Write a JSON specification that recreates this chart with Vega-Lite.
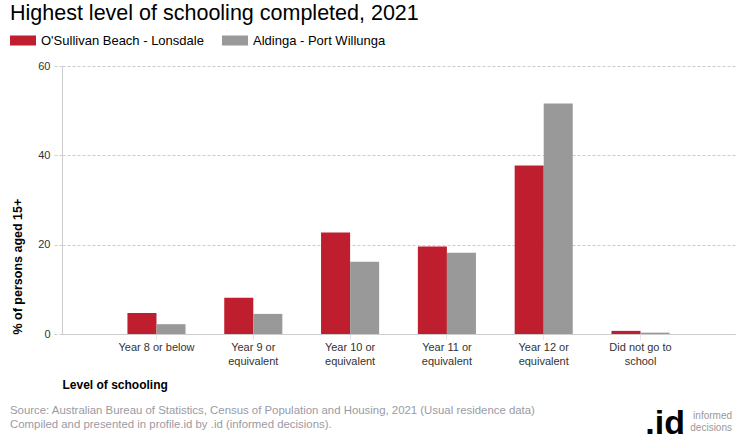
{
  "$schema": "https://vega.github.io/schema/vega-lite/v6.json",
  "background": "white",
  "padding": {"left": 10, "top": 2, "right": 5, "bottom": 5},
  "config": {
    "font": "Liberation Sans",
    "view": {"stroke": null},
    "title": {"font": "Liberation Sans", "fontWeight": "normal"}
  },
  "resolve": {"scale": {"color": "independent"}},
  "title": {"text": ".id", "orient": "bottom", "anchor": "end", "frame": "bounds", "fontSize": 34, "fontWeight": "bold", "color": "#000000", "dx": -50, "offset": -26},
  "vconcat": [
    {
      "resolve": {"scale": {"color": "independent"}},
      "title": {"text": ["informed", "decisions"], "orient": "bottom", "anchor": "end", "frame": "bounds", "fontSize": 10, "color": "#999999", "lineHeight": 12, "offset": -19, "dx": -3},
      "vconcat": [
        {
          "resolve": {"scale": {"color": "independent"}},
          "title": {"text": ["Source: Australian Bureau of Statistics, Census of Population and Housing, 2021 (Usual residence data)", "Compiled and presented in profile.id by .id (informed decisions)."], "orient": "bottom", "anchor": "start", "frame": "bounds", "fontSize": 11.4, "color": "#9a9aa4", "lineHeight": 14, "offset": 15},
          "vconcat": [
            {
              "title": {"text": "Highest level of schooling completed, 2021", "anchor": "start", "frame": "bounds", "fontSize": 21.5, "color": "#000000", "offset": 3.5},
              "width": 673,
              "height": 268,
              "data": {
                "values": [
                  {"category": "Year 8 or below", "area": "O'Sullivan Beach - Lonsdale", "value": 4.7},
                  {"category": "Year 8 or below", "area": "Aldinga - Port Willunga", "value": 2.2},
                  {"category": "Year 9 or equivalent", "area": "O'Sullivan Beach - Lonsdale", "value": 8.1},
                  {"category": "Year 9 or equivalent", "area": "Aldinga - Port Willunga", "value": 4.5},
                  {"category": "Year 10 or equivalent", "area": "O'Sullivan Beach - Lonsdale", "value": 22.7},
                  {"category": "Year 10 or equivalent", "area": "Aldinga - Port Willunga", "value": 16.2},
                  {"category": "Year 11 or equivalent", "area": "O'Sullivan Beach - Lonsdale", "value": 19.6},
                  {"category": "Year 11 or equivalent", "area": "Aldinga - Port Willunga", "value": 18.2},
                  {"category": "Year 12 or equivalent", "area": "O'Sullivan Beach - Lonsdale", "value": 37.7},
                  {"category": "Year 12 or equivalent", "area": "Aldinga - Port Willunga", "value": 51.6},
                  {"category": "Did not go to school", "area": "O'Sullivan Beach - Lonsdale", "value": 0.7},
                  {"category": "Did not go to school", "area": "Aldinga - Port Willunga", "value": 0.3}
                ]
              },
              "mark": {"type": "bar"},
              "encoding": {
                "x": {
                  "field": "category", "type": "nominal", "sort": null,
                  "title": "Level of schooling",
                  "scale": {"paddingInner": 0.4, "paddingOuter": 0.676},
                  "axis": {
                    "labelAngle": 0, "labelFontSize": 11, "labelColor": "#333333", "labelLineHeight": 14,
                    "labelPadding": 2, "labelLimit": 0, "tickSize": 5, "tickColor": "#cccccc", "tickDash": [1, 1],
                    "domainColor": "#cccccc", "titleFontSize": 12, "titleFontWeight": "bold", "titleColor": "#000000",
                    "titleAnchor": "start", "titlePadding": 13,
                    "labelExpr": "datum.label == 'Year 8 or below' ? datum.label : datum.label == 'Did not go to school' ? ['Did not go to', 'school'] : [replace(datum.label, ' equivalent', ''), 'equivalent']"
                  }
                },
                "xOffset": {"field": "area", "type": "nominal", "sort": ["O'Sullivan Beach - Lonsdale", "Aldinga - Port Willunga"]},
                "y": {
                  "field": "value", "type": "quantitative",
                  "title": "% of persons aged 15+",
                  "scale": {"domain": [0, 60]},
                  "axis": {
                    "values": [0, 20, 40, 60], "grid": true, "gridDash": [3, 2], "gridColor": "#cccccc",
                    "tickDash": [3, 2], "tickColor": "#cccccc", "tickSize": 10, "domainColor": "#cccccc",
                    "labelFontSize": 11, "labelColor": "#333333", "labelPadding": 2,
                    "titleFontSize": 12.5, "titleFontWeight": "bold", "titleColor": "#000000",
                    "titleAnchor": "start", "titlePadding": 13
                  }
                },
                "color": {
                  "field": "area", "type": "nominal",
                  "sort": ["O'Sullivan Beach - Lonsdale", "Aldinga - Port Willunga"],
                  "scale": {"range": ["#BE1E2D", "#999999"]},
                  "legend": {
                    "title": null, "orient": "none", "legendX": -52, "legendY": -38.5, "direction": "horizontal",
                    "symbolType": "M-1,-0.385H1V0.385H-1Z", "symbolSize": 676, "symbolStrokeWidth": 0, "symbolOpacity": 1,
                    "labelFontSize": 13, "labelColor": "#000000", "labelLimit": 400, "columnPadding": 18, "labelOffset": 5
                  }
                }
              }
            }
          ]
        }
      ]
    }
  ]
}
